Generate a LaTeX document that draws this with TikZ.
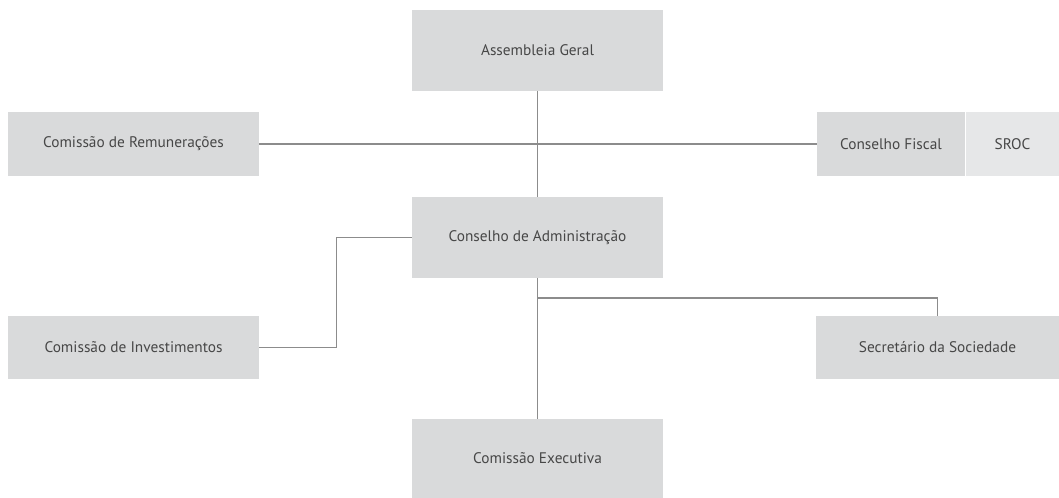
\documentclass[tikz,border=0pt]{standalone}
\usepackage{fontspec}
\setmainfont{PT Sans}
\usepackage{tikz}
\usetikzlibrary{positioning}

\definecolor{boxgray}{HTML}{D9DADB}
\definecolor{lightgray}{HTML}{E6E7E8}
\definecolor{linegray}{HTML}{8C8C8C}
\definecolor{textgray}{HTML}{474747}

\tikzset{
  orgbox/.style={rectangle, fill=boxgray, inner sep=0pt, text=textgray,
    font=\fontsize{11.5}{13}\selectfont, minimum width=251*0.75pt},
  tallbox/.style={orgbox, minimum height=81*0.75pt},
  flatbox/.style={orgbox, minimum height=64*0.75pt},
  link/.style={draw=linegray, line width=1.1pt}
}

\begin{document}
\begin{tikzpicture}[x=0.75pt, y=-0.75pt]

\useasboundingbox (0,0) rectangle (1059,498);

\node (assembly) [tallbox] at (537.5,50.5) {Assembleia Geral};

\node (remun) [flatbox] at (133.5,144) {Comissão de Remunerações};

\node (fiscal) [flatbox, minimum width=148*0.75pt] at (891,144) {Conselho Fiscal};

\node (sroc) [flatbox, fill=lightgray, minimum width=94*0.75pt, right=0pt of fiscal] {SROC};

\node (board) [tallbox] at (537.5,237.5) {Conselho de Administração};

\node (invest) [flatbox, minimum height=63*0.75pt] at (133.5,347.5) {Comissão de Investimentos};

\node (secretary) [flatbox, minimum height=63*0.75pt, minimum width=243*0.75pt] at (937.5,347.5) {Secretário da Sociedade};

\node (exec) [tallbox, minimum height=79*0.75pt] at (537.5,458.5) {Comissão Executiva};

\coordinate (split) at (537.5,298);

\draw[link] (assembly) -- (board);
\draw[link] (remun) -- (fiscal);
\draw[link] (board.west) -- ++(-75,0) |- (invest.east);
\draw[link] (board) -- (exec);
\draw[link] (split) -| (secretary.north);

\end{tikzpicture}
\end{document}
